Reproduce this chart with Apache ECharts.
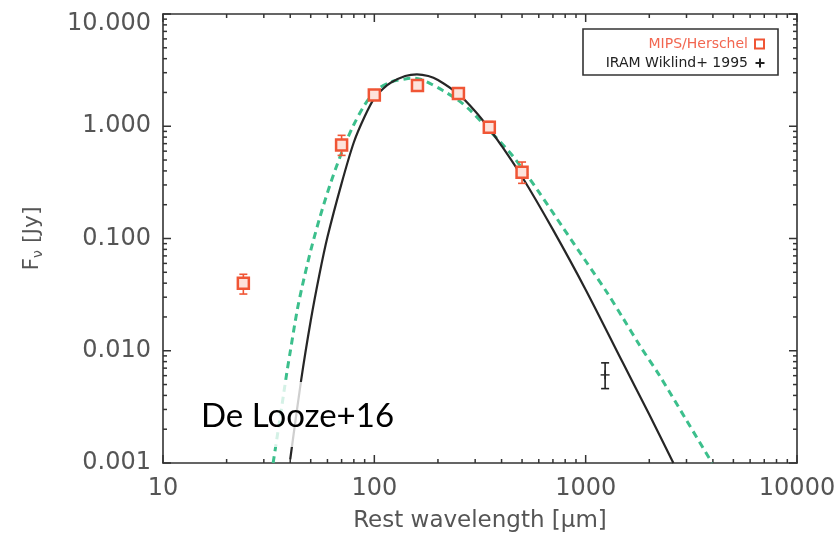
<!DOCTYPE html>
<html>
<head>
<meta charset="utf-8">
<script src="https://cdn.jsdelivr.net/npm/echarts@6/dist/echarts.min.js"></script>
<style>
html,body{margin:0;padding:0;background:#fff;}
#chart{width:839px;height:542px;}
</style>
</head>
<body>
<div id="chart"></div>
<script>
// ---- data ----
const mipsWave = [24, 70, 100, 160, 250, 350, 500];
const mipsFlux = [0.040, 0.68, 1.90, 2.31, 1.96, 0.98, 0.39];
const mipsLow  = [0.032, 0.55, 1.78, 2.18, 1.76, 0.88, 0.31];
const mipsHigh = [0.048, 0.83, 2.04, 2.45, 2.20, 1.10, 0.48];

const iramWave = [1236];
const iramFlux = [0.0061];
const iramLow  = [0.0046];
const iramHigh = [0.0078];

// solid black model curve
const blackWave = [40, 45, 50, 55, 60, 70, 80, 90, 100, 110, 120, 140, 159, 180, 200, 250, 300, 350, 400, 500, 700, 1000, 1500, 2000, 2600];
const blackFlux = [0.00108, 0.0054, 0.0185, 0.048, 0.103, 0.31, 0.72, 1.22, 1.78, 2.16, 2.45, 2.80, 2.90, 2.80, 2.58, 1.93, 1.36, 0.95, 0.67, 0.355, 0.12, 0.035, 0.0078, 0.0027, 0.001];

// dashed green model curve
const greenWave = [33.2, 36, 38.6, 40, 43.1, 45.5, 50, 55, 61.7, 70, 79.3, 90, 103, 120, 140, 151, 165, 184, 211, 250, 284, 350, 453, 600, 781, 1000, 1262, 1503, 1800, 2250, 3000, 3965];
const greenFlux = [0.001, 0.0027, 0.0065, 0.0098, 0.0227, 0.037, 0.078, 0.15, 0.30, 0.58, 1.0, 1.55, 2.12, 2.48, 2.64, 2.68, 2.62, 2.40, 2.08, 1.70, 1.39, 0.92, 0.54, 0.26, 0.125, 0.063, 0.033, 0.0195, 0.0112, 0.0059, 0.0024, 0.001];

const xTickLabels = ['10', '100', '1000', '10000'];
const yTickLabels = ['0.001', '0.010', '0.100', '1.000', '10.000'];
const minorMult = [2, 3, 4, 5, 6, 7, 8, 9];
const xDecades = [10, 100, 1000];
const yDecades = [0.001, 0.01, 0.1, 1];
const xMajor = [10, 100, 1000, 10000];
const yMajor = [0.001, 0.01, 0.1, 1, 10];

// ---- build ----
const zip = (a, b) => a.map((v, i) => [v, b[i]]);
const xTicks = [];
xDecades.forEach(d => minorMult.forEach(m => xTicks.push([d * m, 0.001, 0])));
xMajor.forEach(v => xTicks.push([v, 0.001, 1]));
const yTicks = [];
yDecades.forEach(d => minorMult.forEach(m => yTicks.push([10, d * m, 0])));
yMajor.forEach(v => yTicks.push([10, v, 1]));

const AX = '#333';
const RED = '#f05535';
const GREEN = '#3cbf8c';
const LABEL = '#555';
const FONT = 'DejaVu Sans';
const MINOR_LEN = 4, MAJOR_LEN = 8;

function errBar(color) {
  return function (params, api) {
    const x = api.value(0);
    const lo = api.coord([x, api.value(1)]);
    const hi = api.coord([x, api.value(2)]);
    const w = 4;
    return {type: 'group', children: [
      {type: 'line', shape: {x1: lo[0], y1: lo[1], x2: hi[0], y2: hi[1]}, style: {stroke: color, lineWidth: 1.6}},
      {type: 'line', shape: {x1: lo[0] - w, y1: lo[1], x2: lo[0] + w, y2: lo[1]}, style: {stroke: color, lineWidth: 1.6}},
      {type: 'line', shape: {x1: hi[0] - w, y1: hi[1], x2: hi[0] + w, y2: hi[1]}, style: {stroke: color, lineWidth: 1.6}}
    ]};
  };
}

const chart = echarts.init(document.getElementById('chart'), null, {renderer: 'canvas'});

const yFmt = v => {
  const idx = Math.round(Math.log10(v)) + 3;
  const s = yTickLabels[idx];
  return idx === 4 ? '{t|' + s + '}' : '{n|' + s + '}';
};
const xFmt = v => xTickLabels[Math.round(Math.log10(v)) - 1];

const lineStyle = {show: true, lineStyle: {color: AX, width: 1.6}};

chart.setOption({
  animation: false,
  backgroundColor: '#fff',
  grid: {left: 163, right: 42, top: 14, bottom: 79, containLabel: false},
  xAxis: [
    {type: 'log', logBase: 10, min: 10, max: 10000, position: 'bottom',
     axisLine: lineStyle, axisTick: {show: false}, splitLine: {show: false},
     axisLabel: {formatter: xFmt, fontSize: 24, fontFamily: FONT, color: LABEL, margin: 14, showMinLabel: true, showMaxLabel: true},
     name: 'Rest wavelength [μm]', nameLocation: 'middle', nameGap: 47,
     nameTextStyle: {fontSize: 23, fontFamily: FONT, color: LABEL}},
    {type: 'log', logBase: 10, min: 10, max: 10000, position: 'top',
     axisLine: lineStyle, axisTick: {show: false}, splitLine: {show: false}, axisLabel: {show: false}}
  ],
  yAxis: [
    {type: 'log', logBase: 10, min: 0.001, max: 10, position: 'left',
     axisLine: lineStyle, axisTick: {show: false}, splitLine: {show: false},
     axisLabel: {formatter: yFmt, margin: 12, showMinLabel: true, showMaxLabel: true,
       rich: {
         n: {fontSize: 24, fontFamily: FONT, color: LABEL},
         t: {fontSize: 24, fontFamily: FONT, color: LABEL, padding: [20, 0, 0, 0]}
       }},
     name: '{f|F}{s|ν} [Jy]', nameLocation: 'middle', nameGap: 118, nameRotate: 90,
     nameTextStyle: {fontSize: 22, fontFamily: FONT, color: LABEL,
       rich: {f: {fontSize: 22, fontFamily: FONT, color: LABEL},
              s: {fontSize: 14, fontFamily: FONT, color: LABEL, verticalAlign: 'bottom', padding: [12, 0, 0, 0]}}}},
    {type: 'log', logBase: 10, min: 0.001, max: 10, position: 'right',
     axisLine: lineStyle, axisTick: {show: false}, splitLine: {show: false}, axisLabel: {show: false}}
  ],
  series: [
    {type: 'custom', name: 'xticks', data: xTicks, clip: false,
     renderItem: (p, api) => {
       const v = api.value(0);
       const len = api.value(2) ? MAJOR_LEN : MINOR_LEN;
       const b = api.coord([v, 0.001]);
       const t = api.coord([v, 10]);
       return {type: 'group', children: [
         {type: 'line', shape: {x1: b[0], y1: b[1], x2: b[0], y2: b[1] - len}, style: {stroke: AX, lineWidth: 1.5}},
         {type: 'line', shape: {x1: t[0], y1: t[1], x2: t[0], y2: t[1] + len}, style: {stroke: AX, lineWidth: 1.5}}
       ]};
     }},
    {type: 'custom', name: 'yticks', data: yTicks, clip: false,
     renderItem: (p, api) => {
       const v = api.value(1);
       const len = api.value(2) ? MAJOR_LEN : MINOR_LEN;
       const l = api.coord([10, v]);
       const r = api.coord([10000, v]);
       return {type: 'group', children: [
         {type: 'line', shape: {x1: l[0], y1: l[1], x2: l[0] + len, y2: l[1]}, style: {stroke: AX, lineWidth: 1.5}},
         {type: 'line', shape: {x1: r[0], y1: r[1], x2: r[0] - len, y2: r[1]}, style: {stroke: AX, lineWidth: 1.5}}
       ]};
     }},
    {type: 'line', name: 'model2', data: zip(greenWave, greenFlux), smooth: 0.3, symbol: 'none',
     lineStyle: {color: GREEN, width: 3, type: [7, 5]}, z: 2},
    {type: 'line', name: 'model1', data: zip(blackWave, blackFlux), smooth: 0.3, symbol: 'none',
     lineStyle: {color: '#262626', width: 2.2}, z: 3},
    {type: 'custom', name: 'mipsErr', data: mipsWave.map((w, i) => [w, mipsLow[i], mipsHigh[i]]),
     renderItem: errBar(RED), z: 4},
    {type: 'scatter', name: 'MIPS/Herschel', data: zip(mipsWave, mipsFlux), symbol: 'rect', symbolSize: 11,
     itemStyle: {color: '#fde3dc', borderColor: RED, borderWidth: 2.5, opacity: 1}, z: 5},
    {type: 'custom', name: 'iramErr', data: iramWave.map((w, i) => [w, iramLow[i], iramHigh[i]]),
     renderItem: errBar('#222'), z: 4},
    {type: 'scatter', name: 'IRAM Wiklind+ 1995', data: zip(iramWave, iramFlux),
     symbol: 'path://M4,0h2v4h4v2h-4v4h-2v-4h-4v-2h4z', symbolSize: 9,
     itemStyle: {color: '#222'}, z: 5}
  ],
  graphic: [
    {type: 'rect', shape: {x: 583, y: 29, width: 195, height: 46}, style: {fill: '#fff', stroke: '#333', lineWidth: 1.6}, z: 100},
    {type: 'text', x: 748, y: 44, style: {text: 'MIPS/Herschel', fill: '#f26650', font: '14px "DejaVu Sans"', align: 'right', verticalAlign: 'middle'}, z: 101},
    {type: 'rect', shape: {x: 755, y: 39.5, width: 9, height: 9}, style: {fill: '#fff', stroke: RED, lineWidth: 2}, z: 101},
    {type: 'text', x: 748, y: 63, style: {text: 'IRAM Wiklind+ 1995', fill: '#222', font: '14px "DejaVu Sans"', align: 'right', verticalAlign: 'middle'}, z: 101},
    {type: 'rect', shape: {x: 755.5, y: 62, width: 9, height: 2}, style: {fill: '#222'}, z: 101},
    {type: 'rect', shape: {x: 759, y: 58.5, width: 2, height: 9}, style: {fill: '#222'}, z: 101},
    {type: 'rect', shape: {x: 195, y: 382, width: 215, height: 65}, style: {fill: 'rgba(255,255,255,0.78)'}, z: 100},
    {type: 'text', x: 201, y: 416, style: {text: 'De Looze+16', fill: '#000', font: '33px Lato', align: 'left', verticalAlign: 'middle'}, z: 101}
  ]
});
</script>
</body>
</html>
